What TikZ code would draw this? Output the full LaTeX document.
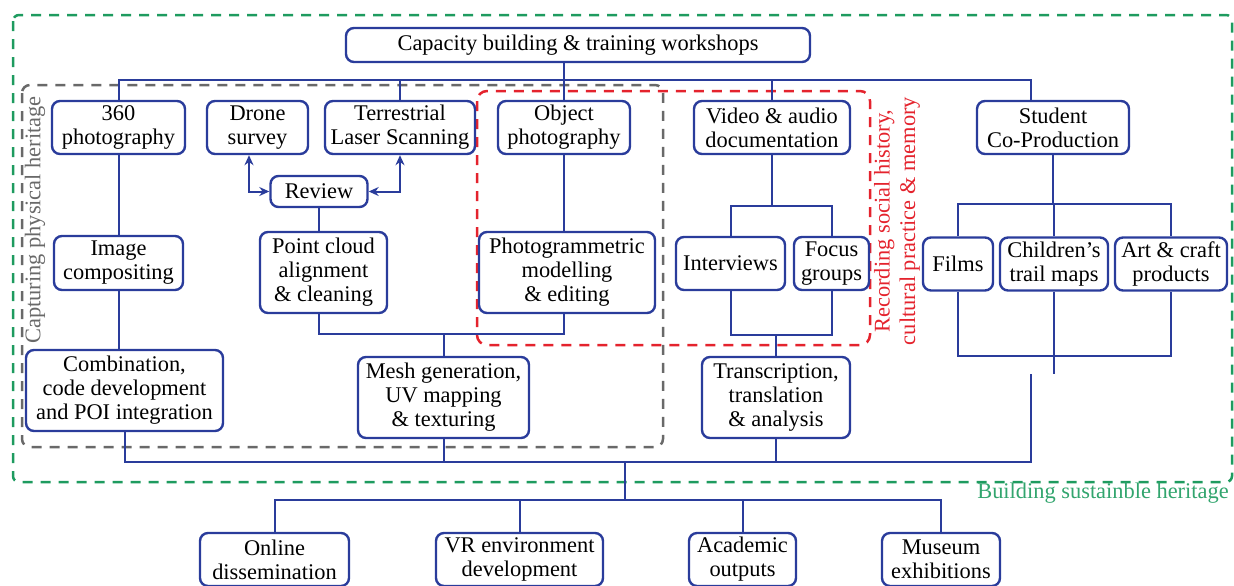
\documentclass[tikz,border=0pt]{standalone}
\usepackage{fontspec}
\setmainfont{Liberation Serif}
\usetikzlibrary{arrows.meta}
\definecolor{bl}{RGB}{42,60,155}
\definecolor{gr}{RGB}{30,155,95}
\definecolor{grt}{RGB}{50,165,110}
\definecolor{gy}{RGB}{105,105,105}
\definecolor{rd}{RGB}{228,35,45}
\tikzset{
  box/.style={draw=bl, line width=1.2pt, rounded corners=4pt, fill=white, align=center,
    inner sep=0pt, text=black, font=\fontsize{11.2}{12}\selectfont},
  conn/.style={draw=bl, line width=1pt},
  biarrow/.style={conn, {Stealth[length=5pt,width=4.5pt]}-{Stealth[length=5pt,width=4.5pt]}},
  region/.style={line width=1.25pt, dash pattern=on 5pt off 4pt},
  lbl/.style={font=\fontsize{11.2}{12.8}\selectfont, align=center, inner sep=0pt}
}
\begin{document}
\begin{tikzpicture}[x=0.5pt,y=-0.5pt]
\useasboundingbox (0,0) rectangle (1234,585);
% regions
\draw[region, gr, rounded corners=3pt] (13,15) rectangle (1232,482);
\draw[region, gy, rounded corners=4pt] (22,85) rectangle (663,447);
\draw[region, rd, rounded corners=5pt] (477,91) rectangle (870,345);
\node[lbl, text=gy, rotate=90] (lcap) at (35,220) {Capturing physical heritage};
\node[lbl, text=rd, rotate=90] (lrec) at (897,221) {Recording social history,\\cultural practice \& memory};
\node[lbl, text=grt] (lbuild) at (1103,493) {Building sustainble heritage};
% helper coordinates
\coordinate (busY) at (0,80);
\coordinate (sx) at (1031,0);
\coordinate (ax) at (249,0);
\coordinate (low1) at (0,334);
\coordinate (ib) at (0,206);
\coordinate (ilow) at (0,335);
\coordinate (cb) at (0,204);
\coordinate (cl) at (0,356);
\coordinate (sfree) at (0,374);
\coordinate (bot) at (0,462);
\coordinate (ox) at (625,0);
\coordinate (outb) at (0,500);
% nodes
\node[box, minimum width=232pt, minimum height=17pt] (top) at (578,45) {Capacity building \& training workshops};
\node[box, minimum width=66.5pt, minimum height=26.5pt] (p360) at (118.5,127.5) {360\\photography};
\node[box, minimum width=50.5pt, minimum height=26.5pt] (drone) at (257.5,127.5) {Drone\\survey};
\node[box, minimum width=75pt, minimum height=26.5pt] (tls) at (400,127.5) {Terrestrial\\Laser Scanning};
\node[box, minimum width=66pt, minimum height=26.5pt] (objph) at (564,127.5) {Object\\photography};
\node[box, minimum width=78pt, minimum height=26.5pt] (video) at (772,127.5) {Video \& audio\\documentation};
\node[box, minimum width=76pt, minimum height=26.5pt] (student) at (1053,127.5) {Student\\Co-Production};
\node[box, minimum width=48.5pt, minimum height=15.5pt] (review) at (319,191.5) {Review};
\node[box, minimum width=64.5pt, minimum height=27pt] (imgcomp) at (118.5,263) {Image\\compositing};
\node[box, minimum width=63.5pt, minimum height=40.5pt] (pointcloud) at (323.5,272.5) {Point cloud\\alignment\\\& cleaning};
\node[box, minimum width=88pt, minimum height=40.5pt] (photogram) at (567,272.5) {Photogrammetric\\modelling\\\& editing};
\node[box, minimum width=54.5pt, minimum height=26.5pt] (interviews) at (730.5,263.5) {Interviews};
\node[box, minimum width=37.5pt, minimum height=26.5pt] (focus) at (831.5,263.5) {Focus\\groups};
\node[box, minimum width=35pt, minimum height=26.5pt] (films) at (958,264) {Films};
\node[box, minimum width=54pt, minimum height=26.5pt] (children) at (1054,264) {Children’s\\trail maps};
\node[box, minimum width=56pt, minimum height=26.5pt] (art) at (1171,264) {Art \& craft\\products};
\node[box, minimum width=98.5pt, minimum height=40.5pt] (comb) at (124.5,390.5) {Combination,\\code development\\and POI integration};
\node[box, minimum width=85.5pt, minimum height=40.5pt] (mesh) at (443.5,397.5) {Mesh generation,\\UV mapping\\\& texturing};
\node[box, minimum width=74pt, minimum height=40.5pt] (trans) at (776,397.5) {Transcription,\\translation\\\& analysis};
\node[box, minimum width=74.5pt, minimum height=26.5pt] (online) at (274.5,559.5) {Online\\dissemination};
\node[box, minimum width=83.5pt, minimum height=26.5pt] (vr) at (519.5,559.5) {VR environment\\development};
\node[box, minimum width=53.5pt, minimum height=26.5pt] (academic) at (742.5,559.5) {Academic\\outputs};
\node[box, minimum width=59pt, minimum height=26.5pt] (museum) at (941,559.5) {Museum\\exhibitions};
% top bus
\draw[conn] (p360.north) -- (p360.north |- busY) -- (sx |- busY) -- (student.north -| sx);
\draw[conn] (tls.north) -- (tls.north |- busY);
\draw[conn] (top.south -| objph) -- (objph.north);
\draw[conn] (video.north) -- (video.north |- busY);
% left column
\draw[conn] (p360.south) -- (imgcomp.north);
\draw[conn] (imgcomp.south) -- (comb.north -| imgcomp);
% review arrows
\draw[biarrow] (drone.south -| ax) |- (review.west);
\draw[biarrow] (tls.south) |- (review.east);
\draw[conn] (review.south) -- (pointcloud.north -| review);
% object photography
\draw[conn] (objph.south) -- (photogram.north -| objph);
\draw[conn] (pointcloud.south -| review) |- (low1 -| objph) -- (photogram.south -| objph);
\draw[conn] (mesh.north) -- (mesh.north |- low1);
% video
\draw[conn] (video.south) -- (video.south |- ib);
\draw[conn] (interviews.north) |- (focus.north |- ib) -- (focus.north);
\draw[conn] (interviews.south) |- (focus.south |- ilow) -- (focus.south);
\draw[conn] (trans.north) -- (trans.north |- ilow);
% student
\draw[conn] (student.south) -- (student.south |- cb);
\draw[conn] (films.north) |- (art.north |- cb) -- (art.north);
\draw[conn] (children.north) -- (children.north |- cb);
\draw[conn] (films.south) |- (art.south |- cl) -- (art.south);
\draw[conn] (children.south) -- (children.south |- sfree);
% bottom bus
\draw[conn] (comb.south) |- (sx |- bot) -- (sx |- sfree);
\draw[conn] (mesh.south) -- (mesh.south |- bot);
\draw[conn] (trans.south) -- (trans.south |- bot);
% outputs
\draw[conn] (ox |- bot) -- (ox |- outb);
\draw[conn] (online.north) |- (museum.north |- outb) -- (museum.north);
\draw[conn] (vr.north) -- (vr.north |- outb);
\draw[conn] (academic.north) -- (academic.north |- outb);
\end{tikzpicture}
\end{document}
